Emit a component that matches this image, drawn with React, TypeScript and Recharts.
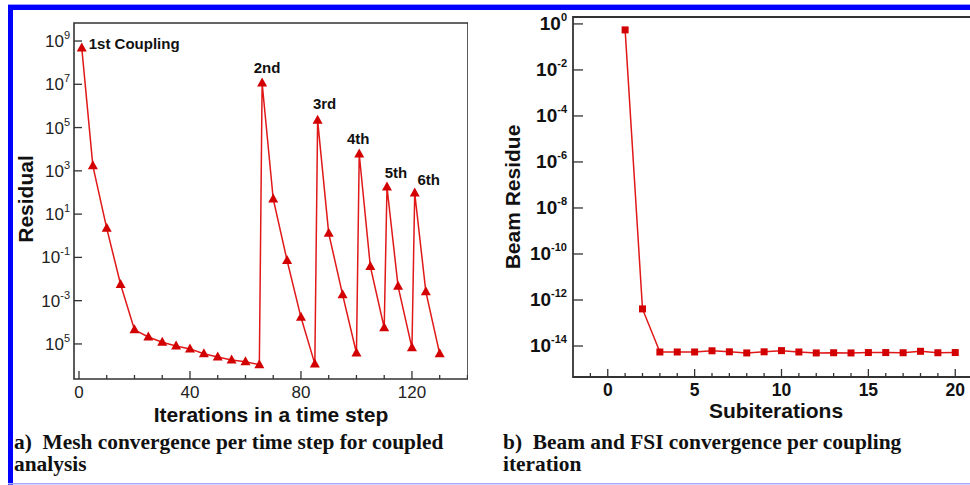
import React from "react";
import { LineChart, Line, XAxis, YAxis, ReferenceArea, LabelList } from "recharts";

// a) mesh residual per iteration within a time step
const meshIter = [1, 5, 10, 15, 20, 25, 30, 35, 40, 45, 50, 55, 60, 65, 66, 70, 75, 80, 85, 86, 90, 95, 100, 101, 105, 110, 111, 115, 120, 121, 125, 130];
const meshResidual = [
  4.8e8, 1.7e3, 2.2, 5.6e-3, 4.5e-5, 2.1e-5, 1.2e-5, 8.1e-6, 5.9e-6, 3.5e-6, 2.5e-6, 1.8e-6, 1.5e-6, 1.1e-6,
  1.15e7, 50, 7.2e-2, 1.7e-4, 1.2e-6,
  2.2e5, 1.3, 1.9e-3, 3.8e-6,
  6.0e3, 3.8e-2, 5.6e-5,
  180, 4.6e-3, 6.6e-6,
  95, 2.6e-3, 3.5e-6,
];
const couplingLabels = ["1st Coupling", "2nd", "3rd", "4th", "5th", "6th"];
const couplingIndex = [0, 14, 19, 23, 26, 29];
const meshXTicks = [0, 10, 20, 30, 40, 50, 60, 70, 80, 90, 100, 110, 120, 130, 140];
const meshYTicks = [1e-5, 1e-3, 1e-1, 1e1, 1e3, 1e5, 1e7, 1e9];
const meshYExp = ["5", "-3", "-1", "1", "3", "5", "7", "9"];

// b) beam residue per subiteration
const subIter = [1, 2, 3, 4, 5, 6, 7, 8, 9, 10, 11, 12, 13, 14, 15, 16, 17, 18, 19, 20];
const beamResidue = [
  0.55, 4.1e-13, 5.5e-15, 5.5e-15, 5.5e-15, 6.2e-15, 5.6e-15, 5.0e-15, 5.6e-15, 6.3e-15,
  5.5e-15, 5.0e-15, 5.1e-15, 5.0e-15, 5.2e-15, 5.2e-15, 5.1e-15, 5.9e-15, 5.1e-15, 5.2e-15,
];
const beamXTicks = [-1, 0, 1, 2, 3, 4, 5, 6, 7, 8, 9, 10, 11, 12, 13, 14, 15, 16, 17, 18, 19, 20];
const beamYTicks = [1e-14, 1e-12, 1e-10, 1e-8, 1e-6, 1e-4, 1e-2, 1];
const beamYExp = ["-14", "-12", "-10", "-8", "-6", "-4", "-2", "0"];

const meshData = meshIter.map((it, i) => ({ it, r: meshResidual[i] }));
const beamData = subIter.map((it, i) => ({ it, r: beamResidue[i] }));

const SANS = "'Liberation Sans', Arial, sans-serif";
const SERIF = "'Liberation Serif', 'Times New Roman', serif";
const FRAME = "#333";
const RED = "#e01818";
const MARK = "#d20000";

const MESH_X: [number, number] = [-1.8, 140.2];
const MESH_Y: [number, number] = [2.4e-7, 6.8e9];
const BEAM_X: [number, number] = [-2, 22];
const BEAM_Y: [number, number] = [4.5e-16, 2.0];

// label nudges for the coupling annotations: [dx, dy, anchor]
const labelNudge: [number, number, string][] = [
  [7, 1.5, "start"],
  [5, -9.5, "middle"],
  [7, -11.5, "middle"],
  [-1, -10.5, "middle"],
  [9, -8.5, "middle"],
  [14, -7.5, "middle"],
];

function MeshXTick(p: any) {
  const v = p.payload.value;
  const major = v % 40 === 0;
  return (
    <g>
      <line x1={p.x} x2={p.x} y1={p.y} y2={p.y - (major ? 8 : 4)} stroke={FRAME} strokeWidth={1.3} />
      {major && (
        <text x={p.x} y={p.y + 19} textAnchor="middle" fontFamily={SANS} fontSize={17} fill="#222">
          {v}
        </text>
      )}
    </g>
  );
}

function MeshYTick(p: any) {
  const idx = meshYTicks.indexOf(p.payload.value);
  return (
    <g>
      <line x1={p.x} x2={p.x + 8} y1={p.y} y2={p.y} stroke={FRAME} strokeWidth={1.3} />
      <text x={p.x - 4} y={p.y + 6} textAnchor="end" fontFamily={SANS} fontSize={17} fill="#222">
        10
        <tspan dy={-8} fontSize={11}>{meshYExp[idx]}</tspan>
      </text>
    </g>
  );
}

function BeamXTick(p: any) {
  const v = p.payload.value;
  const major = v % 5 === 0;
  return (
    <g>
      <line x1={p.x} x2={p.x} y1={p.y} y2={p.y - (major ? 8 : 4)} stroke={FRAME} strokeWidth={1.3} />
      {major && (
        <text x={p.x} y={p.y + 19} textAnchor="middle" fontFamily={SANS} fontWeight="bold" fontSize={17.5} fill="#111">
          {v}
        </text>
      )}
    </g>
  );
}

function BeamYTick(p: any) {
  const idx = beamYTicks.indexOf(p.payload.value);
  return (
    <g>
      <line x1={p.x} x2={p.x + 10} y1={p.y} y2={p.y} stroke={FRAME} strokeWidth={1.3} />
      <text x={p.x - 6} y={p.y + 6} textAnchor="end" fontFamily={SANS} fontWeight="bold" fontSize={19} fill="#111">
        10
        <tspan dy={-9} fontSize={11}>{beamYExp[idx]}</tspan>
      </text>
    </g>
  );
}

function Triangle(p: any) {
  const { cx, cy, index } = p;
  return <path key={`t${index}`} d={`M${cx},${cy - 5.5} L${cx + 5},${cy + 3.5} L${cx - 5},${cy + 3.5} Z`} fill={MARK} />;
}

function Square(p: any) {
  const { cx, cy, index } = p;
  return <rect key={`s${index}`} x={cx - 3.5} y={cy - 3.5} width={7} height={7} fill={MARK} />;
}

function CouplingLabel(p: any) {
  const k = couplingIndex.indexOf(p.index);
  if (k < 0) return null;
  const [dx, dy, anchor] = labelNudge[k];
  return (
    <text x={p.x + dx} y={p.y + dy} textAnchor={anchor as any} fontFamily={SANS} fontWeight="bold" fontSize={15} fill="#111">
      {couplingLabels[k]}
    </text>
  );
}

export default function App() {
  return (
    <div
      style={{
        position: "fixed",
        left: 0,
        top: 0,
        width: 970,
        height: 485,
        overflow: "hidden",
        background: "#fff",
        fontFamily: SANS,
      }}
    >
      <div style={{ position: "absolute", left: 0, top: 0 }}>
        <LineChart width={468} height={409} data={meshData} margin={{ top: 23, right: 0, bottom: 0, left: 0 }}>
          <XAxis
            dataKey="it"
            type="number"
            domain={MESH_X}
            allowDataOverflow
            ticks={meshXTicks}
            interval={0}
            height={30}
            tickSize={0}
            tickMargin={0}
            axisLine={false}
            tickLine={false}
            tick={(p: any) => <MeshXTick {...p} />}
          />
          <YAxis
            type="number"
            scale="log"
            domain={MESH_Y}
            allowDataOverflow
            ticks={meshYTicks}
            interval={0}
            width={74}
            tickSize={0}
            tickMargin={0}
            axisLine={false}
            tickLine={false}
            tick={(p: any) => <MeshYTick {...p} />}
          />
          <ReferenceArea x1={MESH_X[0]} x2={MESH_X[1]} y1={MESH_Y[0]} y2={MESH_Y[1]} fill="none" stroke={FRAME} strokeWidth={1.6} ifOverflow="visible" />
          <Line dataKey="r" stroke={RED} strokeWidth={1.5} dot={Triangle} activeDot={false} isAnimationActive={false}>
            <LabelList dataKey="r" content={(p: any) => <CouplingLabel {...p} />} />
          </Line>
        </LineChart>
      </div>

      <div style={{ position: "absolute", left: 493, top: 0 }}>
        <LineChart width={497} height={407} data={beamData} margin={{ top: 17, right: 0, bottom: 0, left: 0 }}>
          <XAxis
            dataKey="it"
            type="number"
            domain={BEAM_X}
            allowDataOverflow
            ticks={beamXTicks}
            interval={0}
            height={30}
            tickSize={0}
            tickMargin={0}
            axisLine={false}
            tickLine={false}
            tick={(p: any) => <BeamXTick {...p} />}
          />
          <YAxis
            type="number"
            scale="log"
            domain={BEAM_Y}
            allowDataOverflow
            ticks={beamYTicks}
            interval={0}
            width={80}
            tickSize={0}
            tickMargin={0}
            axisLine={false}
            tickLine={false}
            tick={(p: any) => <BeamYTick {...p} />}
          />
          <ReferenceArea x1={BEAM_X[0]} x2={BEAM_X[1]} y1={BEAM_Y[0]} y2={BEAM_Y[1]} fill="none" stroke={FRAME} strokeWidth={1.8} ifOverflow="visible" />
          <Line dataKey="r" stroke={RED} strokeWidth={1.5} dot={Square} activeDot={false} isAnimationActive={false} />
        </LineChart>
      </div>

      <svg width={970} height={485} style={{ position: "absolute", left: 0, top: 0, pointerEvents: "none" }}>
        <rect x={8} y={4} width={962} height={1} fill="#9a9aff" />
        <rect x={8} y={5} width={962} height={5} fill="#0000ff" />
        <rect x={8} y={5} width={5} height={480} fill="#0000ff" />
        <rect x={8} y={483} width={962} height={1.5} fill="#a8a8ff" />

        <text transform="translate(33,199) rotate(-90)" textAnchor="middle" fontFamily={SANS} fontWeight="bold" fontSize={21} fill="#111">
          Residual
        </text>
        <text x={271} y={422} textAnchor="middle" fontFamily={SANS} fontWeight="bold" fontSize={21} fill="#111">
          Iterations in a time step
        </text>
        <text transform="translate(520,197) rotate(-90)" textAnchor="middle" fontFamily={SANS} fontWeight="bold" fontSize={21} fill="#111">
          Beam Residue
        </text>
        <text x={776} y={418} textAnchor="middle" fontFamily={SANS} fontWeight="bold" fontSize={21} fill="#111">
          Subiterations
        </text>

        <text x={14} y={449} fontFamily={SERIF} fontWeight="bold" fontSize={21.4} fill="#111" xmlSpace="preserve">
          a)  Mesh convergence per time step for coupled
        </text>
        <text x={14} y={471} fontFamily={SERIF} fontWeight="bold" fontSize={21.4} fill="#111">
          analysis
        </text>
        <text x={503} y={449} fontFamily={SERIF} fontWeight="bold" fontSize={21.4} fill="#111" xmlSpace="preserve">
          b)  Beam and FSI convergence per coupling
        </text>
        <text x={503} y={471} fontFamily={SERIF} fontWeight="bold" fontSize={21.4} fill="#111">
          iteration
        </text>
      </svg>
    </div>
  );
}
